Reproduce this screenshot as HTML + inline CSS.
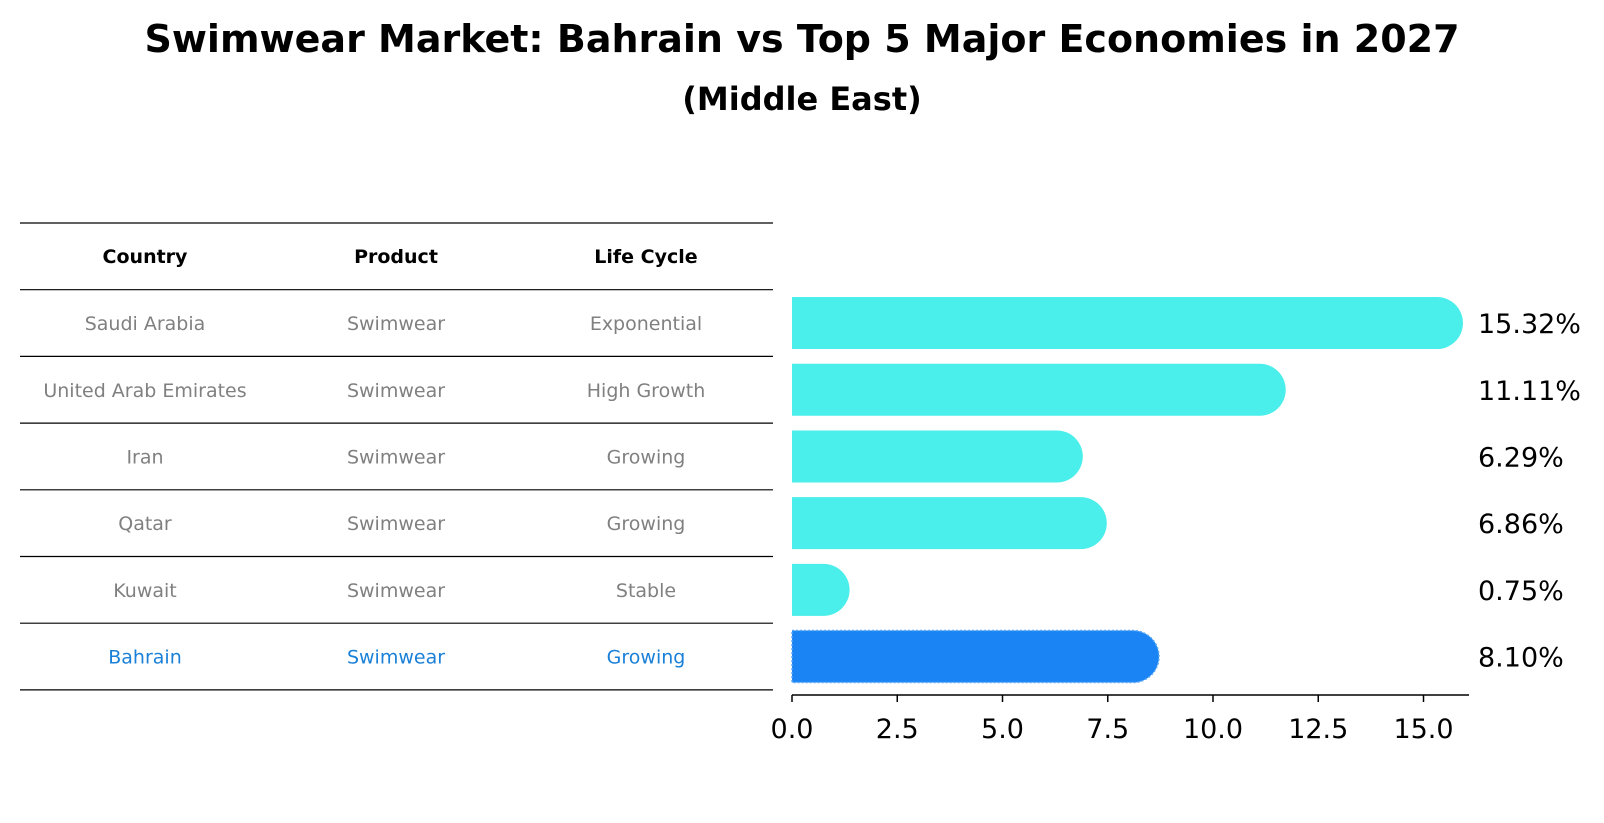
<!DOCTYPE html>
<html><head><meta charset="utf-8"><style>
html,body{margin:0;padding:0;background:#fff;}
svg{display:block;font-family:"DejaVu Sans","Liberation Sans",sans-serif;}
</style></head><body>
<svg id="chart" width="1604" height="823" viewBox="0 0 1604 823" xmlns="http://www.w3.org/2000/svg">
<text x="802" y="52" text-anchor="middle" font-size="38" font-weight="bold">Swimwear Market: Bahrain vs Top 5 Major Economies in 2027</text>
<text x="802" y="110" text-anchor="middle" font-size="32" font-weight="bold">(Middle East)</text>
<g id="table"></g>
<g id="bars"></g>
<g id="xaxis"></g>
</svg>
<script>
const countries = ["Saudi Arabia","United Arab Emirates","Iran","Qatar","Kuwait","Bahrain"];
const products = ["Swimwear","Swimwear","Swimwear","Swimwear","Swimwear","Swimwear"];
const lifeCycles = ["Exponential","High Growth","Growing","Growing","Stable","Growing"];
const values = [15.32,11.11,6.29,6.86,0.75,8.10];
const valueLabels = ["15.32%","11.11%","6.29%","6.86%","0.75%","8.10%"];
const xTicks = [0,2.5,5,7.5,10,12.5,15];
const xTickLabels = ["0.0","2.5","5.0","7.5","10.0","12.5","15.0"];
const headers = ["Country","Product","Life Cycle"];

const NS="http://www.w3.org/2000/svg";
function mk(tag,attrs,parent){const e=document.createElementNS(NS,tag);for(const k in attrs)e.setAttribute(k,attrs[k]);parent.appendChild(e);return e;}
const x0=792, pxPerUnit=42.1;
const xs=v=>x0+v*pxPerUnit;
const rowTop=223, rowH=66.7;
const rowCenter=i=>rowTop+rowH*(i+1.5);
const colX=[145,396,646];
const table=document.getElementById('table');
for(let i=0;i<=countries.length+1;i++){
  const l=mk('line',{x1:20,x2:773,y1:rowTop+rowH*i,y2:rowTop+rowH*i,stroke:'#000','stroke-width':1.2},table);
  
  
}
headers.forEach((h,j)=>{
  const t=mk('text',{x:colX[j],y:rowTop+rowH*0.5+6.5,'text-anchor':'middle','font-size':19,'font-weight':'bold'},table);
  t.textContent=h;
  
  
});
countries.forEach((c,i)=>{
  const col=(i===countries.length-1)?'#1a80d8':'#808080';
  [c,products[i],lifeCycles[i]].forEach((s,j)=>{
    const t=mk('text',{x:colX[j],y:rowCenter(i)+7,'text-anchor':'middle','font-size':19,fill:col},table);
    t.textContent=s;
    
    
  });
});
const bars=document.getElementById('bars');
const bh=52;
values.forEach((v,i)=>{
  const cy=rowCenter(i);
  const last=(i===values.length-1);
  const col=last?'#1a84f4':'#4aeeea';
  const x1=xs(v);
  const r=bh/2;
  const d=`M${x0},${cy-r} L${x1},${cy-r} A${r},${r} 0 0 1 ${x1},${cy+r} L${x0},${cy+r} Z`;
  const attrs={d:d,fill:col};
  if(last){attrs.stroke='#5aa8f8';attrs['stroke-width']=1.5;attrs['stroke-dasharray']='2,2';}
  const p=mk('path',attrs,bars);
  
  
  const t=mk('text',{x:1478,y:cy+10,'font-size':27},bars);
  t.textContent=valueLabels[i];
  
  
});
const xa=document.getElementById('xaxis');
const ay=695;
const sp=mk('line',{x1:x0,x2:1469,y1:ay,y2:ay,stroke:'#000','stroke-width':1.5},xa);


xTicks.forEach((v,i)=>{
  const tk=mk('line',{x1:xs(v),x2:xs(v),y1:ay,y2:ay+7,stroke:'#000','stroke-width':1.5},xa);
  
  
  const t=mk('text',{x:xs(v),y:ay+43,'text-anchor':'middle','font-size':27},xa);
  t.textContent=xTickLabels[i];
  
  
});
</script>
</body></html>
